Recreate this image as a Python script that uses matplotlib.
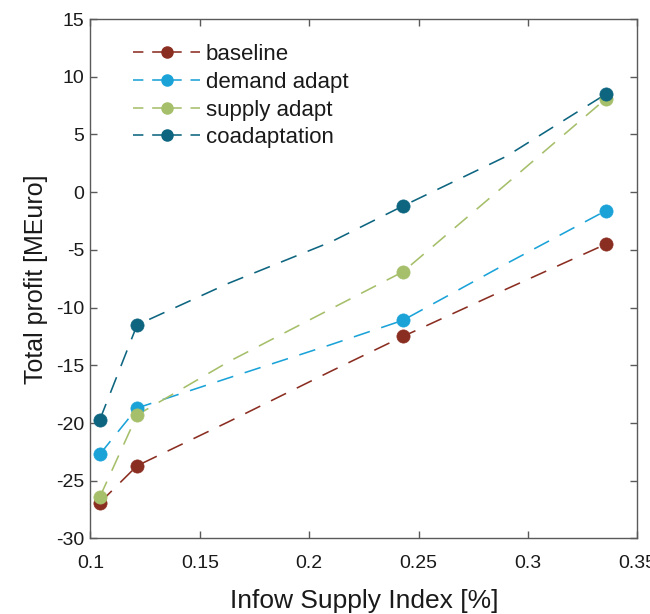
import matplotlib
matplotlib.use("Agg")
import matplotlib.pyplot as plt

# ---------------- data ----------------
x_line = [0.1043, 0.1213, 0.163, 0.210, 0.2428, 0.290, 0.3356]
marker_idx = [0, 1, 4, 6]

baseline = [-26.9, -23.7, -19.9, -15.5, -12.5, -8.4, -4.5]
demand = [-22.7, -18.7, -16.1, -13.2, -11.1, -6.2, -1.6]
supply = [-26.4, -19.3, -14.7, -10.1, -6.9, 0.7, 8.1]
coadapt = [-19.7, -11.5, -7.9, -4.3, -1.2, 3.1, 8.5]

labels = ["baseline", "demand adapt", "supply adapt", "coadaptation"]
colors = ["#8B2E22", "#1BA3D8", "#A6BF6A", "#0D6580"]
series = [baseline, demand, supply, coadapt]
draw_order = [0, 1, 3, 2]

xticks = [0.1, 0.15, 0.2, 0.25, 0.3, 0.35]
xticklabels = ["0.1", "0.15", "0.2", "0.25", "0.3", "0.35"]
yticks = [-30, -25, -20, -15, -10, -5, 0, 5, 10, 15]

plt.rcParams["font.family"] = ["Liberation Sans", "DejaVu Sans"]
plt.rcParams["axes.unicode_minus"] = False

fig = plt.figure(figsize=(6.5, 6.14), dpi=100)
ax = fig.add_axes([0.1392, 0.123, 0.8415, 0.846])

lw = 1.15
dash = (10.5, 7.5)
handles = [None] * 4
for i in draw_order:
    ys = series[i]
    ax.plot(x_line, ys, color=colors[i], lw=lw, dashes=dash, zorder=2 + i * 0.1)
    mx = [x_line[k] for k in marker_idx]
    my = [ys[k] for k in marker_idx]
    ax.plot(mx, my, ls="none", marker="o", ms=9.5, mfc=colors[i], mec=colors[i],
            mew=0.5, zorder=3 + i * 0.1)
    (h,) = ax.plot([], [], color=colors[i], lw=lw, dashes=(6.5, 5.5), marker="o", ms=8,
                   mfc=colors[i], mec=colors[i], label=labels[i])
    handles[i] = h

ax.set_xlim(0.1, 0.35)
ax.set_ylim(-30, 15)
ax.set_xticks(xticks)
ax.set_xticklabels(xticklabels)
ax.set_yticks(yticks)

for sp in ax.spines.values():
    sp.set_color("#5a5a5a")
    sp.set_linewidth(1.0)
ax.tick_params(direction="in", length=5, width=1.0, color="#5a5a5a",
               top=True, right=True, labelsize=14, labelcolor="#1a1a1a")
ax.tick_params(axis="x", pad=12)
ax.tick_params(axis="y", pad=4.5)

ax.set_xlabel("Infow Supply Index [%]", fontsize=19, color="#1a1a1a", labelpad=12)
ax.set_ylabel("Total profit [MEuro]", fontsize=18, color="#1a1a1a", labelpad=6)

ax.legend(handles=handles, loc="upper left", bbox_to_anchor=(0.042, 0.99), frameon=False,
          fontsize=16, handlelength=3.0, handletextpad=0.25, labelspacing=0.3,
          labelcolor="#1a1a1a")

fig.savefig("out.png", dpi=100)
